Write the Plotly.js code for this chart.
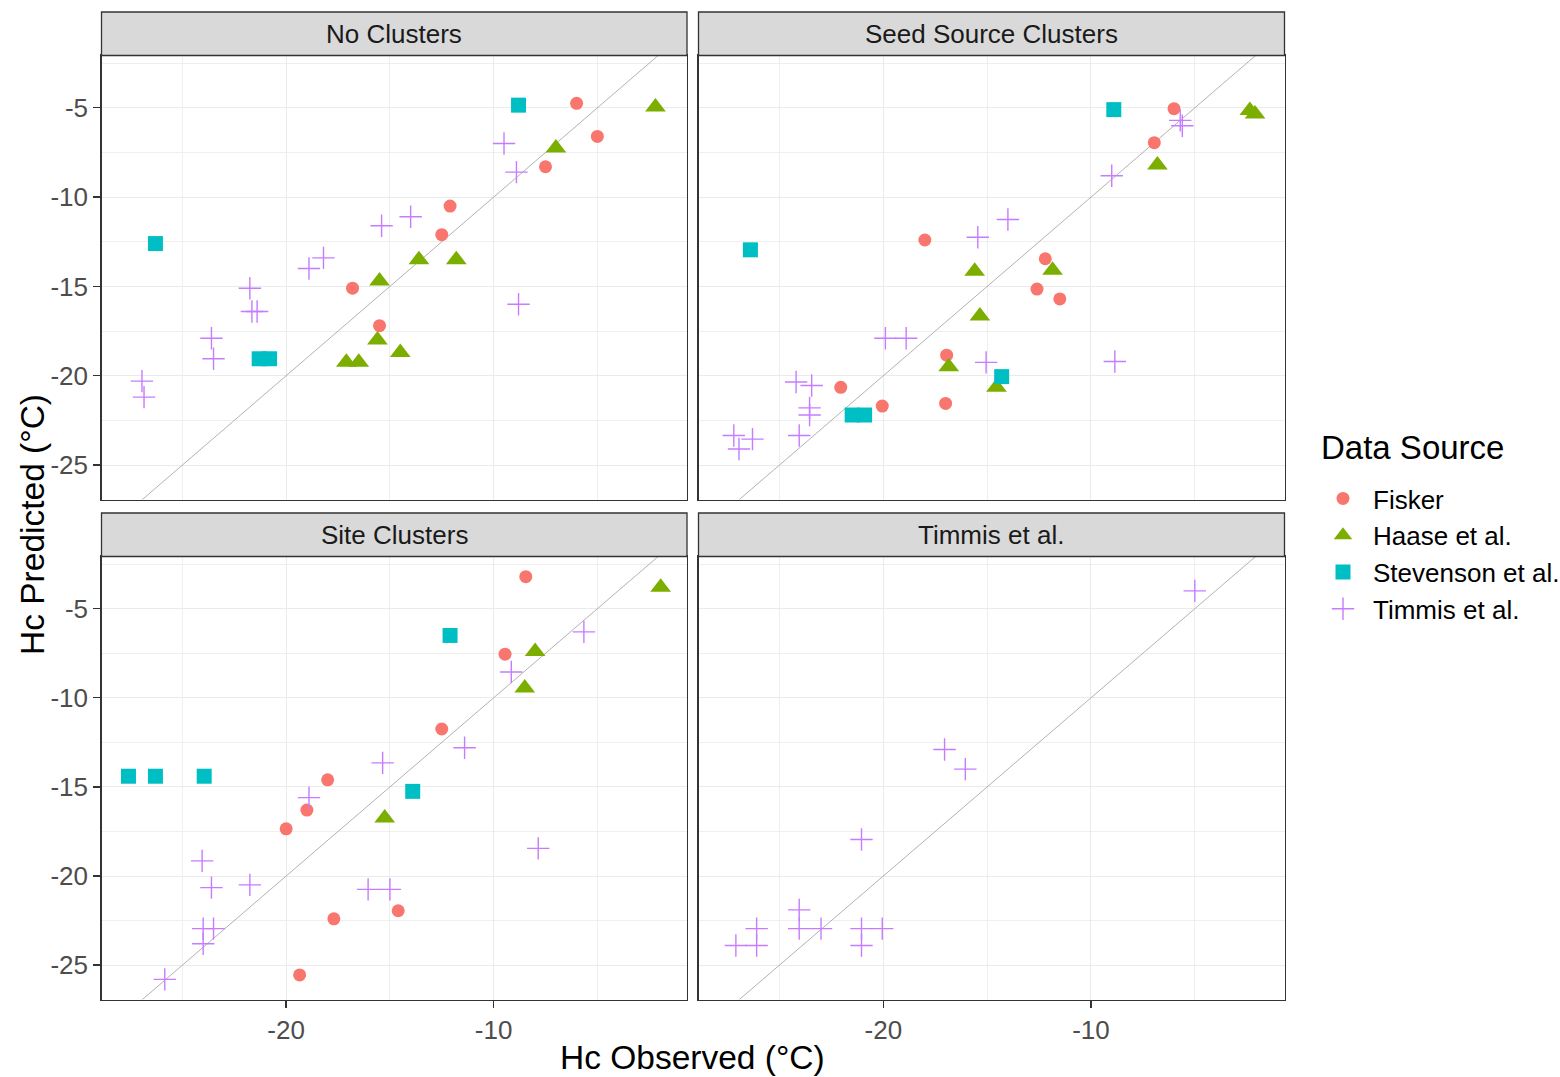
<!DOCTYPE html>
<html>
<head>
<meta charset="utf-8">
<script src="https://cdn.plot.ly/plotly-3.0.1.min.js"></script>
<style>html,body{margin:0;padding:0;background:#fff;}</style>
</head>
<body>
<div id="chart" style="width:1560px;height:1077px;"></div>
<script>
// Observed vs predicted cold hardiness (Hc), one facet per clustering approach.

const panelTitles = ['No Clusters', 'Seed Source Clusters', 'Site Clusters', 'Timmis et al.'];
const sourceNames = ['Fisker', 'Haase et al.', 'Stevenson et al.', 'Timmis et al.'];

// --- No Clusters ---
const fiskerNoObs  = [-6.0, -5.0, -7.5, -12.1, -12.5, -16.8, -15.5];
const fiskerNoPred = [-4.75, -6.6, -8.3, -10.5, -12.1, -15.1, -17.2];
const haaseNoObs   = [-2.2, -7.0, -13.6, -11.8, -15.5, -15.6, -14.5, -17.1, -16.5];
const haaseNoPred  = [-4.95, -7.25, -13.5, -13.5, -14.7, -18.0, -18.7, -19.25, -19.25];
const stevNoObs    = [-8.8, -26.3, -21.3, -20.8];
const stevNoPred   = [-4.85, -12.6, -19.05, -19.05];
const timmisNoObs  = [-9.5, -8.9, -14.0, -15.4, -18.2, -18.9, -21.75, -21.65, -21.4, -23.6, -23.5, -8.8, -26.95, -26.85];
const timmisNoPred = [-7.0, -8.6, -11.1, -11.6, -13.4, -14.0, -15.1, -16.4, -16.4, -17.9, -19.05, -16.0, -20.3, -21.2];

// --- Seed Source Clusters ---
const fiskerSeedObs  = [-6.0, -6.95, -18.0, -12.2, -12.6, -11.5, -16.95, -22.05, -20.05, -17.0];
const fiskerSeedPred = [-5.05, -6.95, -12.4, -13.45, -15.15, -15.7, -18.85, -20.65, -21.7, -21.55];
const haaseSeedObs   = [-2.35, -2.1, -6.8, -11.85, -15.6, -15.35, -16.85, -14.55];
const haaseSeedPred  = [-5.15, -5.35, -8.2, -14.1, -14.15, -16.65, -19.5, -20.65];
const stevSeedObs    = [-8.9, -26.4, -14.3, -21.5, -20.9];
const stevSeedPred   = [-5.1, -12.95, -20.05, -22.2, -22.2];
const timmisSeedObs  = [-5.7, -5.6, -9.0, -14.0, -15.45, -19.9, -18.9, -15.05, -8.85, -24.2, -23.45, -23.55, -23.55, -24.05, -27.2, -26.3, -26.95];
const timmisSeedPred = [-5.7, -6.0, -8.8, -11.25, -12.25, -17.9, -17.9, -19.25, -19.2, -20.35, -20.55, -21.8, -22.2, -23.35, -23.35, -23.55, -24.1];

// --- Site Clusters ---
const fiskerSiteObs  = [-8.45, -9.45, -12.5, -18.0, -19.0, -20.0, -14.6, -17.7, -19.35];
const fiskerSitePred = [-3.2, -7.55, -11.75, -14.6, -16.3, -17.35, -21.95, -22.4, -25.55];
const haaseSiteObs   = [-1.95, -8.0, -8.5, -15.25];
const haaseSitePred  = [-3.8, -7.4, -9.45, -16.75];
const stevSiteObs    = [-12.1, -27.6, -26.3, -23.95, -13.9];
const stevSitePred   = [-6.5, -14.4, -14.4, -14.4, -15.25];
const timmisSiteObs  = [-5.65, -9.15, -11.4, -15.35, -18.9, -7.85, -24.05, -23.6, -21.75, -16.05, -15.0, -24.0, -23.5, -24.0, -25.85];
const timmisSitePred = [-6.3, -8.55, -12.8, -13.65, -15.6, -18.45, -19.15, -20.65, -20.5, -20.75, -20.75, -22.95, -22.95, -23.8, -25.8];

// --- Timmis et al. model ---
const timmisOwnObs  = [-5.0, -17.05, -16.05, -21.05, -24.05, -24.05, -23.0, -26.1, -26.1, -27.1, -21.05, -20.05, -21.05];
const timmisOwnPred = [-4.0, -12.9, -14.0, -17.95, -21.9, -22.95, -22.95, -22.95, -23.9, -23.9, -22.95, -22.95, -23.9];

// 1:1 reference line endpoints
const identityLine = [-30, 0];

// Axis ticks
const xTickVals = [-20, -10];
const xTickText = ['-20', '-10'];
const xMinorVals = [-25, -15, -5];
const yTickVals = [-25, -20, -15, -10, -5];
const yTickText = ['-25', '-20', '-15', '-10', '-5'];
const yMinorVals = [-27.5, -22.5, -17.5, -12.5, -7.5, -2.5];

const panels = [
  [[fiskerNoObs, fiskerNoPred], [haaseNoObs, haaseNoPred], [stevNoObs, stevNoPred], [timmisNoObs, timmisNoPred]],
  [[fiskerSeedObs, fiskerSeedPred], [haaseSeedObs, haaseSeedPred], [stevSeedObs, stevSeedPred], [timmisSeedObs, timmisSeedPred]],
  [[fiskerSiteObs, fiskerSitePred], [haaseSiteObs, haaseSitePred], [stevSiteObs, stevSitePred], [timmisSiteObs, timmisSitePred]],
  [[[], []], [[], []], [[], []], [timmisOwnObs, timmisOwnPred]]
];

const FONT = '"Liberation Sans", Arial, Helvetica, sans-serif';
const W = 1560, H = 1077;

const markerStyles = [
  {symbol: 'circle', size: 13, color: '#F8766D'},
  {symbol: 'triangle-up', size: 18, color: '#7CAE00'},
  {symbol: 'square', size: 15, color: '#00BFC4'},
  {symbol: 'cross-thin', size: 16, color: '#C77CFF', line: {color: '#C77CFF', width: 1.4}}
];

// Panel geometry in pixels
const colX = [[101.5, 687], [698.5, 1284.5]];
const rowY = [[55.5, 499.5], [556.5, 999.5]];
const stripY = [[12, 55.5], [513, 556.5]];

const xRange = [-28.9, -0.68];
const yRange = [-26.93, -2.07];

const traces = [];
const layout = {
  width: W, height: H,
  margin: {l: 0, r: 0, t: 0, b: 0, autoexpand: false},
  paper_bgcolor: '#FFFFFF',
  plot_bgcolor: '#FFFFFF',
  font: {family: FONT},
  showlegend: true,
  legend: {
    x: 1313 / W, y: 1 - 475 / H, xanchor: 'left', yanchor: 'top',
    font: {family: FONT, size: 26, color: '#000000'},
    tracegroupgap: 0,
    itemwidth: 50,
    bgcolor: 'rgba(0,0,0,0)'
  },
  shapes: [],
  annotations: []
};

panels.forEach((panel, p) => {
  const col = p % 2, row = Math.floor(p / 2);
  const suf = p === 0 ? '' : String(p + 1);
  const xa = 'x' + suf, ya = 'y' + suf;

  // identity line
  traces.push({
    x: identityLine, y: identityLine, xaxis: xa, yaxis: ya,
    mode: 'lines', line: {color: '#9E9E9E', width: 0.8},
    hoverinfo: 'skip', showlegend: false
  });

  panel.forEach((series, s) => {
    const st = markerStyles[s];
    traces.push({
      x: series[0], y: series[1], xaxis: xa, yaxis: ya,
      type: 'scatter', mode: 'markers',
      name: sourceNames[s], legendgroup: sourceNames[s],
      showlegend: p === 0,
      marker: {symbol: st.symbol, size: st.size, color: st.color,
               line: st.line || {width: 0}},
      cliponaxis: false
    });
  });

  const bottom = row === 1, left = col === 0;
  layout['xaxis' + suf] = {
    domain: [colX[col][0] / W, colX[col][1] / W],
    range: xRange, anchor: ya,
    tickmode: 'array', tickvals: xTickVals, ticktext: xTickText,
    showticklabels: bottom, ticks: bottom ? 'outside' : '',
    ticklen: 7, tickwidth: 1.3, tickcolor: '#333333',
    tickfont: {family: FONT, size: 26, color: '#4D4D4D'},
    showgrid: true, gridcolor: '#EBEBEB', gridwidth: 1,
    minor: {tickmode: 'array', tickvals: xMinorVals, showgrid: true, gridcolor: '#EBEBEB', gridwidth: 0.8, ticks: ''},
    zeroline: false, showline: true, mirror: true,
    linecolor: '#333333', linewidth: 1.3,
    automargin: false, fixedrange: true
  };
  layout['yaxis' + suf] = {
    domain: [1 - rowY[row][1] / H, 1 - rowY[row][0] / H],
    range: yRange, anchor: xa,
    tickmode: 'array', tickvals: yTickVals, ticktext: yTickText,
    showticklabels: left, ticks: left ? 'outside' : '',
    ticklen: 7, tickwidth: 1.3, tickcolor: '#333333',
    tickfont: {family: FONT, size: 26, color: '#4D4D4D'},
    showgrid: true, gridcolor: '#EBEBEB', gridwidth: 1,
    minor: {tickmode: 'array', tickvals: yMinorVals, showgrid: true, gridcolor: '#EBEBEB', gridwidth: 0.8, ticks: ''},
    zeroline: false, showline: true, mirror: true,
    linecolor: '#333333', linewidth: 1.3,
    automargin: false, fixedrange: true
  };

  // facet strip
  layout.shapes.push({
    type: 'rect', xref: 'paper', yref: 'paper',
    x0: colX[col][0] / W, x1: colX[col][1] / W,
    y0: 1 - stripY[row][1] / H, y1: 1 - stripY[row][0] / H,
    fillcolor: '#D9D9D9', line: {color: '#333333', width: 1.3}, layer: 'above'
  });
  layout.annotations.push({
    text: panelTitles[p], xref: 'paper', yref: 'paper',
    x: (colX[col][0] + colX[col][1]) / 2 / W,
    y: 1 - (stripY[row][0] + stripY[row][1]) / 2 / H,
    xanchor: 'center', yanchor: 'middle', showarrow: false,
    font: {family: FONT, size: 26, color: '#1A1A1A'}
  });
});

// Legend heading
layout.annotations.push({
  text: 'Data Source', xref: 'paper', yref: 'paper',
  x: 1319 / W, y: 1 - 448 / H, xanchor: 'left', yanchor: 'middle',
  showarrow: false, font: {family: FONT, size: 33, color: '#000000'}
});

// Shared axis titles
layout.annotations.push({
  text: 'Hc Observed (°C)', xref: 'paper', yref: 'paper',
  x: 692.5 / W, y: 1 - 1057 / H, xanchor: 'center', yanchor: 'middle',
  showarrow: false, font: {family: FONT, size: 33.5, color: '#000000'}
});
layout.annotations.push({
  text: 'Hc Predicted (°C)', xref: 'paper', yref: 'paper',
  x: 32 / W, y: 1 - 525 / H, xanchor: 'center', yanchor: 'middle',
  textangle: -90, showarrow: false,
  font: {family: FONT, size: 33.5, color: '#000000'}
});

Plotly.newPlot('chart', traces, layout, {displayModeBar: false, staticPlot: true});
</script>
</body>
</html>
